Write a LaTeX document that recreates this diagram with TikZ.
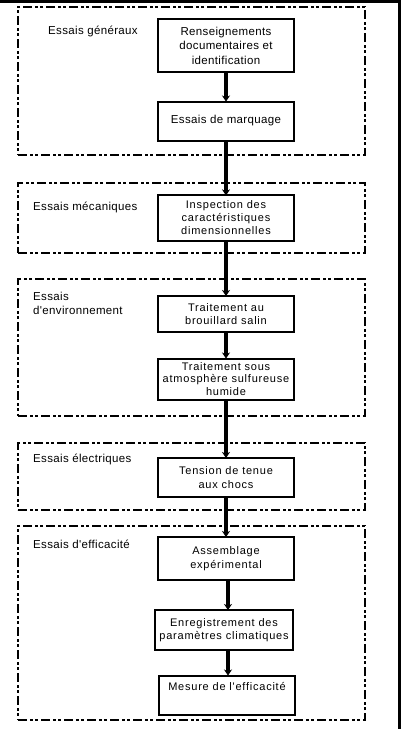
\documentclass[tikz,border=0pt]{standalone}
\usepackage{fontspec}
\setmainfont{Liberation Sans}
\newfontfamily\widefont[LetterSpace=7]{Liberation Sans}
\newfontfamily\midfont[LetterSpace=3]{Liberation Sans}
\usetikzlibrary{arrows.meta}
\tikzset{
  grp/.style={draw, line width=1.7pt, dash pattern=on 9pt off 3pt on 3pt off 2pt on 3pt off 3pt, minimum width=347pt, inner sep=0pt},
  stepbox/.style={draw, line width=2pt, minimum width=136pt, inner sep=1pt, align=center, font=\widefont\fontsize{11}{13.5}\selectfont},
  bigbox/.style={stepbox, font=\midfont\fontsize{11.5}{14.5}\selectfont},
  thinbox/.style={stepbox, line width=1.2pt, font=\widefont\fontsize{11}{13}\selectfont},
  lbl/.style={anchor=west, inner sep=0pt, align=left, font=\midfont\fontsize{11.5}{14}\selectfont},
  arr/.style={line width=3.2pt, -{Stealth[length=6pt,width=8pt]}, shorten >=-1pt}
}
\begin{document}
\begin{tikzpicture}[x=1pt,y=-1pt]
\useasboundingbox (0,0) rectangle (406,729);
\fill[white] (0,0) rectangle (406,729);
% frame
\coordinate (fl) at (0,1.5);
\coordinate (ftr) at (399.5,1.5);
\coordinate (fbr) at (399.5,729);
\draw[line width=2.2pt] (fl) -- (ftr) -- (fbr);
% group boxes
\node[grp, minimum height=148pt] (g1) at (191.5,81) {};
\node[grp, minimum height=70pt] (g2) at (191.5,218) {};
\node[grp, minimum height=137pt] (g3) at (191.5,347.5) {};
\node[grp, minimum height=67pt] (g4) at (191.5,476.5) {};
\node[grp, minimum height=194pt] (g5) at (191.5,623) {};
% labels
\node[lbl] (l1) at (48,31) {Essais généraux};
\node[lbl] (l2) at (33,207) {Essais mécaniques};
\node[lbl] (l3) at (33,303) {Essais\\d'environnement};
\node[lbl] (l4) at (33,459) {Essais électriques};
\node[lbl] (l5) at (33,544) {Essais d'efficacité};
% steps
\node[bigbox, minimum height=53pt] (n1) at (226,45.5) {Renseignements\\documentaires et\\identification};
\node[bigbox, minimum height=39pt] (n2) at (226,121) {Essais de marquage};
\node[thinbox, minimum height=46pt] (n3) at (226,218) {Inspection des\\caractéristiques\\dimensionnelles};
\node[stepbox, minimum height=36pt] (n4) at (226,314) {Traitement au\\brouillard salin};
\node[stepbox, minimum height=41pt, font=\widefont\fontsize{11}{12.5}\selectfont] (n5) at (226,379) {Traitement sous\\atmosphère sulfureuse\\humide};
\node[stepbox, minimum height=39pt] (n6) at (226,477.5) {Tension de tenue\\aux chocs};
\node[stepbox, minimum height=43pt] (n7) at (226,558.5) {Assemblage\\expérimental};
\node[stepbox, minimum height=40pt, minimum width=138pt] (n8) at (224,630) {Enregistrement des\\paramètres climatiques};
\node[stepbox, minimum height=39pt] (n9) at (227,695) {\parbox[t][28pt]{130pt}{\centering\vspace{1pt}Mesure de l'efficacité}};
% connectors
\draw[arr] (n1) -- (n2);
\draw[arr] (n2) -- (n3);
\draw[arr] (n3) -- (n4);
\draw[arr] (n4) -- (n5);
\draw[arr] (n5) -- (n6);
\draw[arr] (n6) -- (n7);
\draw[arr] (n7.south -| 228,0) -- (n8.north -| 228,0);
\draw[arr] (n8.south -| 228,0) -- (n9.north -| 228,0);
\end{tikzpicture}
\end{document}
